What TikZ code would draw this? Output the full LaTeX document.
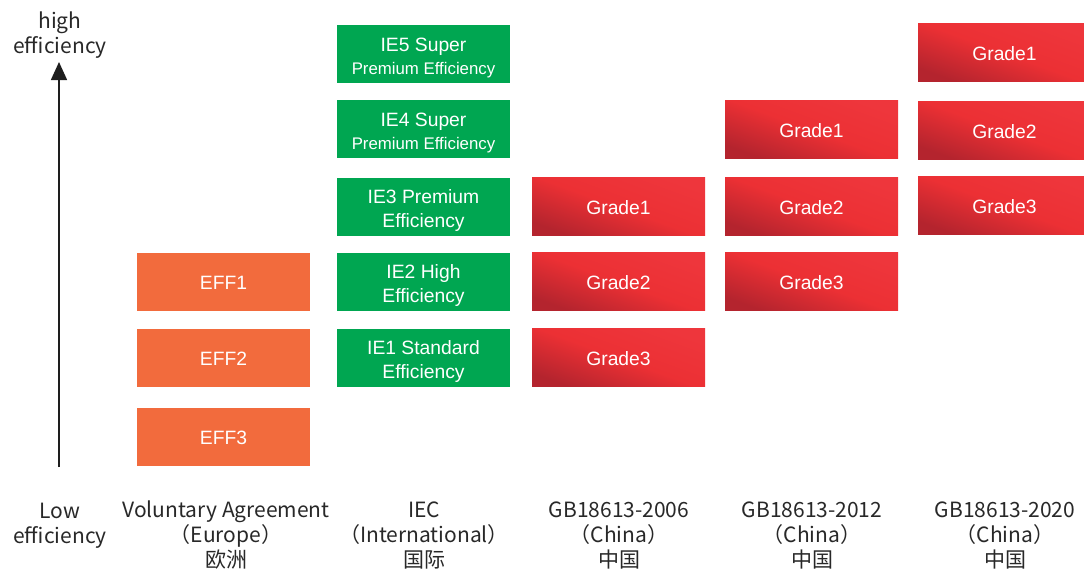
\documentclass[tikz,border=0pt]{standalone}
\usepackage{fontspec}
\setmainfont{Liberation Sans}
\newfontfamily\cjkfont{Noto Sans CJK SC}
\usetikzlibrary{arrows.meta}
\definecolor{effc}{RGB}{242,107,61}
\definecolor{iec}{RGB}{0,166,81}
\definecolor{gdark}{RGB}{180,36,46}
\definecolor{gmid}{RGB}{236,48,52}
\definecolor{gtop}{RGB}{238,54,60}
\definecolor{axisc}{RGB}{30,30,30}
\definecolor{labc}{RGB}{40,40,40}
\tikzset{
  box/.style={minimum width=173pt, minimum height=58pt, inner sep=0pt, text=white,
    font=\fontsize{19.3}{24}\selectfont, align=center},
  effbox/.style={box, fill=effc, text depth=0pt, text height=14pt, yshift=0pt},
  iebox/.style={box, fill=iec},
  redbox/.style={box, bottom color=gdark, top color=gtop, middle color=gmid, shading angle=-20},
  lab/.style={font=\cjkfont\fontsize{21}{25}\selectfont, align=center, text=labc, inner sep=0pt}
}
\newcommand{\topstrut}{\rule{0pt}{21pt}}
\newcommand{\onestrut}{\rule{0pt}{17pt}}
\newcommand{\smallpe}{\fontsize{16.8}{20}\selectfont Premium Efficiency}
\begin{document}
\begin{tikzpicture}[x=1pt,y=-1pt]
\path[use as bounding box, clip] (0,0) rectangle (1084,574);
% column 1
\node[effbox] (eff1) at (223.5,282) {\onestrut EFF1};
\node[effbox] (eff2) at (223.5,358) {\onestrut EFF2};
\node[effbox] (eff3) at (223.5,437) {\onestrut EFF3};
% column 2
\node[iebox] (ie5) at (423.5,54) {\topstrut IE5 Super\\[-1pt]\smallpe};
\node[iebox] (ie4) at (423.5,129) {\topstrut IE4 Super\\[-1pt]\smallpe};
\node[iebox] (ie3) at (423.5,206.5) {\topstrut IE3 Premium\\Efficiency};
\node[iebox] (ie2) at (423.5,281.5) {\topstrut IE2 High\\Efficiency};
\node[iebox] (ie1) at (423.5,357.5) {\topstrut IE1 Standard\\Efficiency};
% column 3
\node[redbox] (a1) at (618.5,206.5) {\onestrut Grade1};
\node[redbox] (a2) at (618.5,281.5) {\onestrut Grade2};
\node[redbox] (a3) at (618.5,357.5) {\onestrut Grade3};
% column 4
\node[redbox] (b1) at (811.5,129.5) {\onestrut Grade1};
\node[redbox] (b2) at (811.5,206.5) {\onestrut Grade2};
\node[redbox] (b3) at (811.5,281.5) {\onestrut Grade3};
% column 5
\node[redbox] (c1) at (1004.5,52.5) {\onestrut Grade1};
\node[redbox] (c2) at (1004.5,130.5) {\onestrut Grade2};
\node[redbox] (c3) at (1004.5,205.5) {\onestrut Grade3};
% axis
\coordinate (abot) at (59,467);
\coordinate (atop) at (59,62);
\draw[axisc, line width=1.5pt, -{Triangle[width=16pt,length=18pt]}] (abot) -- (atop);
\node[lab] (high) at (60,35) {high\\efficiency};
\node[lab] (low) at (60,525.5) {Low\\efficiency};
% bottom labels
\node[lab] (l1) at (226,535) {Voluntary Agreement\\（Europe）\\欧洲};
\node[lab] (l2) at (424,535) {IEC\\（International）\\国际};
\node[lab] (l3) at (619,535) {GB18613-2006\\（China）\\中国};
\node[lab] (l4) at (812,535) {GB18613-2012\\（China）\\中国};
\node[lab] (l5) at (1005,535) {GB18613-2020\\（China）\\中国};
\end{tikzpicture}
\end{document}
